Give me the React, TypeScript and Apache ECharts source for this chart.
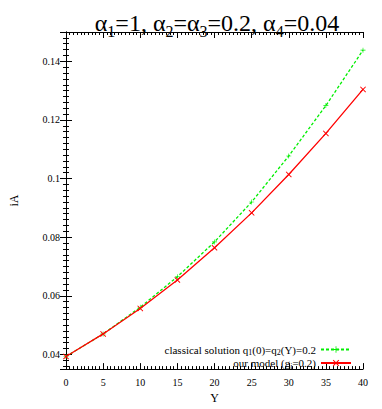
import React, { useEffect, useRef } from "react";
import * as echarts from "echarts";

const xValues = [0, 5, 10, 15, 20, 25, 30, 35, 40];
const classical = [0.0393, 0.047, 0.0561, 0.0665, 0.0784, 0.092, 0.1077, 0.1249, 0.1438];
const ourModel = [0.0393, 0.047, 0.0557, 0.0654, 0.0764, 0.0883, 0.1014, 0.1154, 0.1304];
const yLabels = [0.04, 0.06, 0.08, 0.1, 0.12, 0.14];

const FONT = "Liberation Serif";
const PLUS = "path://M4.4,0H5.6V4.4H10V5.6H5.6V10H4.4V5.6H0V4.4H4.4Z";
const CROSS = "path://M1.1,0L5,3.9L8.9,0L10,1.1L6.1,5L10,8.9L8.9,10L5,6.1L1.1,10L0,8.9L3.9,5L0,1.1Z";

export default function App() {
  const ref = useRef<HTMLDivElement>(null);
  useEffect(() => {
    if (!ref.current) return;
    const chart = echarts.init(ref.current, null, { renderer: "svg" });
    const common = {
      axisLine: { show: true, lineStyle: { color: "#000", width: 1 } },
      axisTick: { show: true, inside: true, length: 6, lineStyle: { color: "#000" } },
      minorTick: { show: true, splitNumber: 10, length: 3, lineStyle: { color: "#000" } },
      splitLine: { show: false },
    };
    const yFmt = (v: number) => {
      const hit = yLabels.find((l) => Math.abs(l - v) < 1e-9);
      return hit === undefined ? "" : String(hit);
    };
    chart.setOption({
      animation: false,
      title: {
        text: "{a|α}{s|1}{a|=1, α}{s|2}{a|=α}{s|3}{a|=0.2, α}{s|4}{a|=0.04}",
        left: 212,
        top: 2,
        textAlign: "center",
        textStyle: {
          fontWeight: "normal",
          rich: {
            a: { fontFamily: FONT, fontSize: 24, fontWeight: "normal", color: "#000", verticalAlign: "bottom", lineHeight: 28 },
            s: { fontFamily: FONT, fontSize: 16, fontWeight: "normal", color: "#000", verticalAlign: "bottom", lineHeight: 20, padding: [0, 0, -4, 0] },
          },
        },
      },
      grid: { left: 61, right: 19, top: 32, bottom: 32, containLabel: false },
      legend: {
        orient: "vertical",
        right: 30,
        top: 344,
        padding: 0,
        align: "right",
        itemWidth: 30,
        itemHeight: 8,
        itemGap: 1,
        data: ["classical", "model"],
        formatter: (name: string) =>
          name === "classical" ? "classical solution q{s|1}(0)=q{s|2}(Y)=0.2" : "our model (g{s|i}=0.2)",
        textStyle: {
          fontFamily: FONT,
          fontSize: 11,
          color: "#000",
          rich: {
            s: { fontFamily: FONT, fontSize: 8, color: "#000", padding: [6, 0, 0, 0] },
          },
        },
      },
      xAxis: [
        {
          ...common,
          type: "value",
          min: 0,
          max: 40,
          interval: 5,
          name: "Y",
          nameLocation: "middle",
          nameGap: 20,
          nameTextStyle: { fontFamily: FONT, fontSize: 12, color: "#000" },
          axisLabel: { fontFamily: FONT, fontSize: 10, color: "#000", margin: 8 },
        },
        {
          ...common,
          type: "value",
          position: "top",
          min: 0,
          max: 40,
          interval: 5,
          axisLabel: { show: false },
        },
      ],
      yAxis: [
        {
          ...common,
          type: "value",
          min: 0.035,
          max: 0.15,
          minInterval: 0.02,
          maxInterval: 0.02,
          name: "iA",
          nameLocation: "middle",
          nameGap: 46,
          nameTextStyle: { fontFamily: FONT, fontSize: 12, color: "#000" },
          axisLabel: { fontFamily: FONT, fontSize: 10, color: "#000", margin: 6, formatter: yFmt },
        },
        {
          ...common,
          type: "value",
          position: "right",
          min: 0.035,
          max: 0.15,
          minInterval: 0.02,
          maxInterval: 0.02,
          axisLabel: { show: false },
        },
      ],
      series: [
        {
          name: "classical",
          type: "line",
          data: xValues.map((x, i) => [x, classical[i]]),
          symbol: PLUS,
          symbolSize: 5,
          showAllSymbol: true,
          lineStyle: { color: "#00ee00", width: 1.3, type: [3, 2] },
          itemStyle: { color: "#00ee00" },
          z: 2,
        },
        {
          name: "model",
          type: "line",
          data: xValues.map((x, i) => [x, ourModel[i]]),
          symbol: CROSS,
          symbolSize: 6,
          showAllSymbol: true,
          lineStyle: { color: "#ff0000", width: 1.3 },
          itemStyle: { color: "#ff0000" },
          z: 3,
        },
      ],
    });
    return () => chart.dispose();
  }, []);
  return <div ref={ref} style={{ width: 382, height: 409, position: "absolute", left: 0, top: 0 }} />;
}
